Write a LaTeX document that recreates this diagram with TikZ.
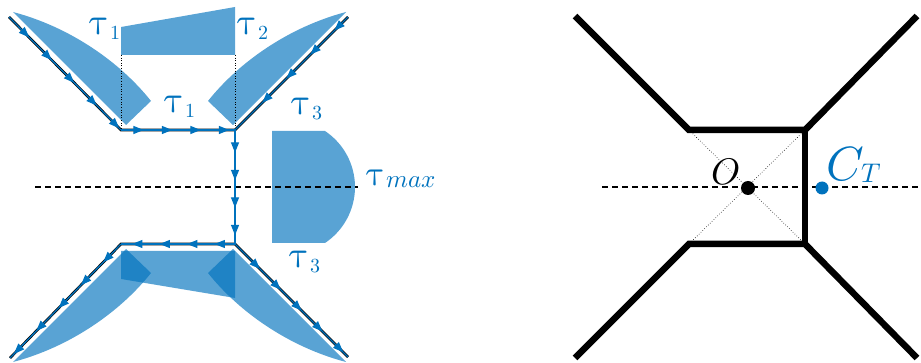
\documentclass[tikz,border=0pt]{standalone}
\usepackage{fontspec}
\usepackage{unicode-math}
\setmathfont{Latin Modern Math}
\usetikzlibrary{arrows.meta,decorations.markings}
\definecolor{mblue}{RGB}{0,114,189}
\newcommand{\taulab}[1]{{\fontsize{38}{38}\selectfont$\uptau$}\kern1pt\raisebox{-5pt}{\fontsize{20}{20}\selectfont$#1$}}
\begin{document}
\begin{tikzpicture}[x=1pt,y=-1pt,
  shadearea/.style={fill=mblue,fill opacity=0.65,draw=none},
  netblack/.style={line width=2.6pt,black},
  flow/.style n args={3}{line width=1.3pt,draw=mblue,postaction={decorate},
    decoration={markings,mark=between positions #1 and #2 step #3 with {\arrow[mblue]{Triangle[length=10.5pt,width=8pt]}}}},
  lab/.style={text=mblue,inner sep=0pt,anchor=base west},
  axis/.style={line width=1.8pt,black,dash pattern=on 5.5pt off 4.5pt},
  thickline/.style={line width=6.5pt,black},
  thindot/.style={line width=0.6pt,black,dotted}]
\useasboundingbox (0,0) rectangle (921,363);
% ---------- left diagram ----------
\coordinate (LTL) at (9,17);
\coordinate (LTR) at (348,17);
\coordinate (LBL) at (10,358);
\coordinate (LBR) at (348,357);
\coordinate (A) at (121,130);
\coordinate (B) at (235,130);
\coordinate (C) at (121,244);
\coordinate (D) at (235,244);
\coordinate (A0) at (121,55);
\coordinate (B0) at (235,55);
% shaded areas
\fill[shadearea] (121,55) -- (121,27) -- (235,7) -- (235,55) -- cycle;
\fill[shadearea] (121,251) -- (235,251) -- (235,298) -- (121,279) -- cycle;
\fill[shadearea] (13,12) .. controls (70,27) and (120,62) .. (151,101) -- (126,125) -- cycle;
\fill[shadearea] (346,12) .. controls (289,27) and (239,62) .. (208,101) -- (233,125) -- cycle;
\fill[shadearea] (13,362) .. controls (70,347) and (120,312) .. (151,273) -- (126,249) -- cycle;
\fill[shadearea] (346,362) .. controls (289,347) and (239,312) .. (208,273) -- (233,249) -- cycle;
\fill[shadearea] (272,131) -- (325,131) .. controls (343.7,143.5) and (355,164.5) .. (355,187)
   .. controls (355,209.5) and (343.7,230.5) .. (325,243) -- (272,243) -- cycle;
% dotted guides
\draw[thindot] (A0) -- (A);
\draw[thindot] (B0) -- (B);
% axis
\draw[axis] (35,187) -- (358,187);
% network
\draw[netblack] (LTL) -- (A) -- (B) -- (LTR);
\draw[netblack] (B) -- (D);
\draw[netblack] (LBL) -- (C) -- (D) -- (LBR);
\draw[flow={0.18}{0.99}{32pt}] (LTL) -- (A);
\draw[flow={0.2}{0.97}{28.5pt}] (A) -- (B);
\draw[flow={0.12}{0.97}{34pt}] (LTR) -- (B);
\draw[flow={0.2}{0.97}{27.5pt}] (B) -- (D);
\draw[flow={0.18}{0.93}{27.5pt}] (D) -- (C);
\draw[flow={0.16}{0.97}{32pt}] (C) -- (LBL);
\draw[flow={0.22}{0.97}{29.5pt}] (D) -- (LBR);
% labels
\node[lab] (t1a) at (89,35) {\taulab{1}};
\node[lab] (t2) at (237,35) {\taulab{2}};
\node[lab] (t1b) at (164,113) {\taulab{1}};
\node[lab] (t3a) at (291,115) {\taulab{3}};
\node[lab] (t3b) at (289,268) {\taulab{3}};
\node[lab] (tmax) at (366,186) {{\fontsize{36}{36}\selectfont$\uptau$}\kern1pt\raisebox{-2pt}{\fontsize{25}{25}\selectfont$max$}};
% ---------- right diagram ----------
\coordinate (RTL) at (575,16);
\coordinate (RTR) at (917,16);
\coordinate (RBL) at (575,358);
\coordinate (RBR) at (917,358);
\coordinate (P) at (689,130);
\coordinate (Q) at (805,130);
\coordinate (R) at (805,244);
\coordinate (S) at (689,244);
\draw[thindot] (P) -- (R);
\draw[thindot] (Q) -- (S);
\draw[axis] (602,187) -- (921,187);
\draw[thickline] (RTL) -- (P) -- (Q) -- (RTR);
\draw[thickline] (Q) -- (R);
\draw[thickline] (RBL) -- (S) -- (R) -- (RBR);
\node[circle,fill=black,inner sep=0pt,minimum size=14pt] (O) at (748,188) {};
\node[circle,fill=mblue,inner sep=0pt,minimum size=13pt] (CT) at (822,188) {};
\node[inner sep=0pt] (Olab) at (726,172) {\fontsize{37}{37}\selectfont$O$};
\node[lab] (CTlab) at (826,181) {\fontsize{48}{48}\selectfont$C$\kern-3pt\raisebox{-1.5pt}{\fontsize{27}{27}\selectfont$T$}};
\end{tikzpicture}
\end{document}
